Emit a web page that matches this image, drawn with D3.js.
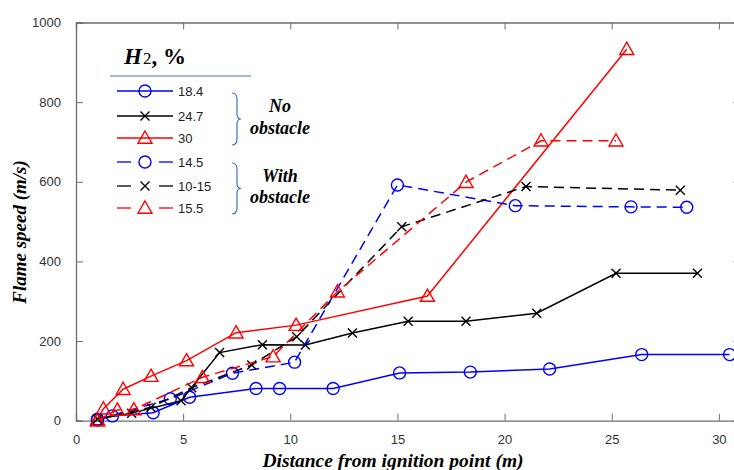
<!DOCTYPE html>
<html>
<head>
<meta charset="utf-8">
<script src="https://cdn.jsdelivr.net/npm/d3@7"></script>
<style>
  html,body{margin:0;padding:0;background:#fff;}
  svg{display:block;}
  .tick text{font-family:Arial,"Liberation Sans",sans-serif;font-size:13px;fill:#333;}
</style>
</head>
<body>
<div id="chart"></div>
<script>
// flame speed vs distance — H2 runs with / without obstacle
const xTicks = [0, 5, 10, 15, 20, 25, 30];
const yTicks = [0, 200, 400, 600, 800, 1000];

// no obstacle
const h184 = [[1.0,3],[1.7,12],[3.6,20],[5.3,59],[8.4,81],[9.5,81],[12.0,81],[15.1,120],[18.4,122],[22.1,130],[26.4,166],[30.5,166]];
const h247 = [[1.0,4],[2.6,19],[4.9,50],[6.7,171],[8.7,191],[10.7,190],[12.9,220],[15.5,250],[18.2,250],[21.5,270],[25.2,370],[29.0,370]];
const h30  = [[1.0,3],[1.28,30],[2.2,79],[3.5,112],[5.16,151],[7.47,221],[10.27,240],[16.4,313],[25.7,933]];
// with obstacle
const h145 = [[1.0,3],[4.4,55],[7.3,119],[10.2,147],[15.0,592],[20.5,540],[25.9,537],[28.5,536]];
const h1015 = [[1.0,4],[3.5,34],[5.4,83],[8.2,140],[10.3,211],[15.2,487],[21.0,588],[28.2,579]];
const h155 = [[1.0,0],[1.93,27],[2.7,28],[5.9,109],[9.2,161],[12.2,324],[18.2,599],[21.7,703],[25.2,703]];

const series = [
  {label:'18.4', data:h184, color:'#0000ff', mark:'o', dash:false},
  {label:'24.7', data:h247, color:'#000000', mark:'x', dash:false},
  {label:'30',   data:h30,  color:'#ff0000', mark:'t', dash:false},
  {label:'14.5', data:h145, color:'#0000ff', mark:'o', dash:true},
  {label:'10-15',data:h1015,color:'#000000', mark:'x', dash:true},
  {label:'15.5', data:h155, color:'#ff0000', mark:'t', dash:true},
];

const SERIF = '"Liberation Serif", "Times New Roman", Times, serif';
const W = 734, H = 470;
const svg = d3.select('#chart').append('svg').attr('width', W).attr('height', H);
const x = d3.scaleLinear().domain([0, 31]).range([76, 740.3]);
const y = d3.scaleLinear().domain([0, 1000]).range([420.7, 22.5]);
const AX = '#6e6e6e';

// box + inward ticks
const gb = svg.append('g').attr('transform', `translate(0,${y(0)})`)
  .call(d3.axisBottom(x).tickValues(xTicks).tickSize(-7).tickPadding(16).tickFormat(d3.format('d')));
const gl = svg.append('g').attr('transform', `translate(${x(0)},0)`)
  .call(d3.axisLeft(y).tickValues(yTicks).tickSize(-7).tickPadding(16).tickFormat(d3.format('d')));
const gt = svg.append('g').attr('transform', `translate(0,${y(1000)})`)
  .call(d3.axisTop(x).tickValues(xTicks).tickSize(-7).tickFormat(''));
const gr = svg.append('g').attr('transform', `translate(${x(31)},0)`)
  .call(d3.axisRight(y).tickValues(yTicks).tickSize(-7).tickFormat(''));
[gb, gl, gt, gr].forEach(g => {
  g.select('.domain').attr('stroke', AX).attr('stroke-width', 1.3);
  g.selectAll('.tick line').attr('stroke', AX).attr('stroke-width', 1);
});
gb.selectAll('.tick text').attr('dy', '0.6em');
gl.selectAll('.tick text').attr('dx', '1px');

// markers
function marker(g, mk, cx, cy, col){
  if(mk === 'o'){
    g.append('circle').attr('cx', cx).attr('cy', cy).attr('r', 6)
      .attr('fill', 'none').attr('stroke', col).attr('stroke-width', 1.4);
  } else if(mk === 'x'){
    const s = 4.5;
    g.append('path').attr('d', `M${cx-s},${cy-s}L${cx+s},${cy+s}M${cx-s},${cy+s}L${cx+s},${cy-s}`)
      .attr('stroke', col).attr('stroke-width', 1.4);
  } else {
    const s = 7;
    g.append('path').attr('d', `M${cx},${cy-s}L${cx+s},${cy+s*0.75}L${cx-s},${cy+s*0.75}Z`)
      .attr('fill', 'none').attr('stroke', col).attr('stroke-width', 1.4);
  }
}

const line = d3.line().x(d => x(d[0])).y(d => y(d[1]));
const plot = svg.append('g');
series.forEach(s => {
  plot.append('path').datum(s.data).attr('d', line)
    .attr('fill', 'none').attr('stroke', s.color).attr('stroke-width', 1.5)
    .attr('stroke-dasharray', s.dash ? '10,6' : null);
  const mg = plot.append('g');
  s.data.forEach(d => marker(mg, s.mark, x(d[0]), y(d[1]), s.color));
});

function serifText(g, txt, size){
  return g.append('text').attr('font-family', SERIF).attr('font-weight', 'bold')
    .attr('font-style', 'italic').attr('font-size', size).attr('fill', '#000').text(txt);
}

// legend
const lg = svg.append('g');
const t = lg.append('text').attr('font-family', SERIF).attr('font-weight', 'bold')
  .attr('font-size', 23).attr('x', 124).attr('y', 64);
t.append('tspan').attr('font-style', 'italic').text('H');
t.append('tspan').attr('font-size', 17).attr('font-weight', 'normal').attr('dx', 1).text('2');
t.append('tspan').text(', %');
lg.append('line').attr('x1', 110).attr('x2', 251).attr('y1', 76).attr('y2', 76)
  .attr('stroke', '#4472c4').attr('stroke-width', 1.2);
const rowY = [91, 116, 138, 162, 186, 208];
series.forEach((s, i) => {
  const ry = rowY[i];
  if(s.dash){
    [[117,131],[159,173]].forEach(([a,b]) => lg.append('line').attr('x1', a).attr('x2', b)
      .attr('y1', ry).attr('y2', ry).attr('stroke', s.color).attr('stroke-width', 1.3));
  } else {
    lg.append('line').attr('x1', 117).attr('x2', 173).attr('y1', ry).attr('y2', ry)
      .attr('stroke', s.color).attr('stroke-width', 1.3);
  }
  marker(lg, s.mark, 145, ry, s.color);
  lg.append('text').attr('x', 178).attr('y', ry + 4.5)
    .attr('font-family', 'Arial, "Liberation Sans", sans-serif').attr('font-size', 13).attr('fill', '#222')
    .text(s.label);
});

// braces
function brace(x0, y0, y1){
  const m = (y0 + y1) / 2, w = 5;
  return `M${x0},${y0} Q${x0+w},${y0} ${x0+w},${y0+6} L${x0+w},${m-5} Q${x0+w},${m} ${x0+w+4},${m}`
    + ` Q${x0+w},${m} ${x0+w},${m+5} L${x0+w},${y1-6} Q${x0+w},${y1} ${x0},${y1}`;
}
lg.append('path').attr('d', brace(232, 93, 145)).attr('fill', 'none').attr('stroke', '#4472c4').attr('stroke-width', 1.2);
lg.append('path').attr('d', brace(232, 163, 214)).attr('fill', 'none').attr('stroke', '#4472c4').attr('stroke-width', 1.2);
[['No',112],['obstacle',134],['With',182],['obstacle',203]].forEach(([s, yy]) =>
  serifText(lg, s, 18).attr('x', 280).attr('y', yy).attr('text-anchor', 'middle'));

// axis titles
serifText(svg, 'Flame speed (m/s)', 19).attr('text-anchor', 'middle')
  .attr('transform', 'translate(26,232) rotate(-90)');
serifText(svg, 'Distance from ignition point (m)', 19.5).attr('text-anchor', 'middle')
  .attr('x', 393).attr('y', 467);
</script>
</body>
</html>
